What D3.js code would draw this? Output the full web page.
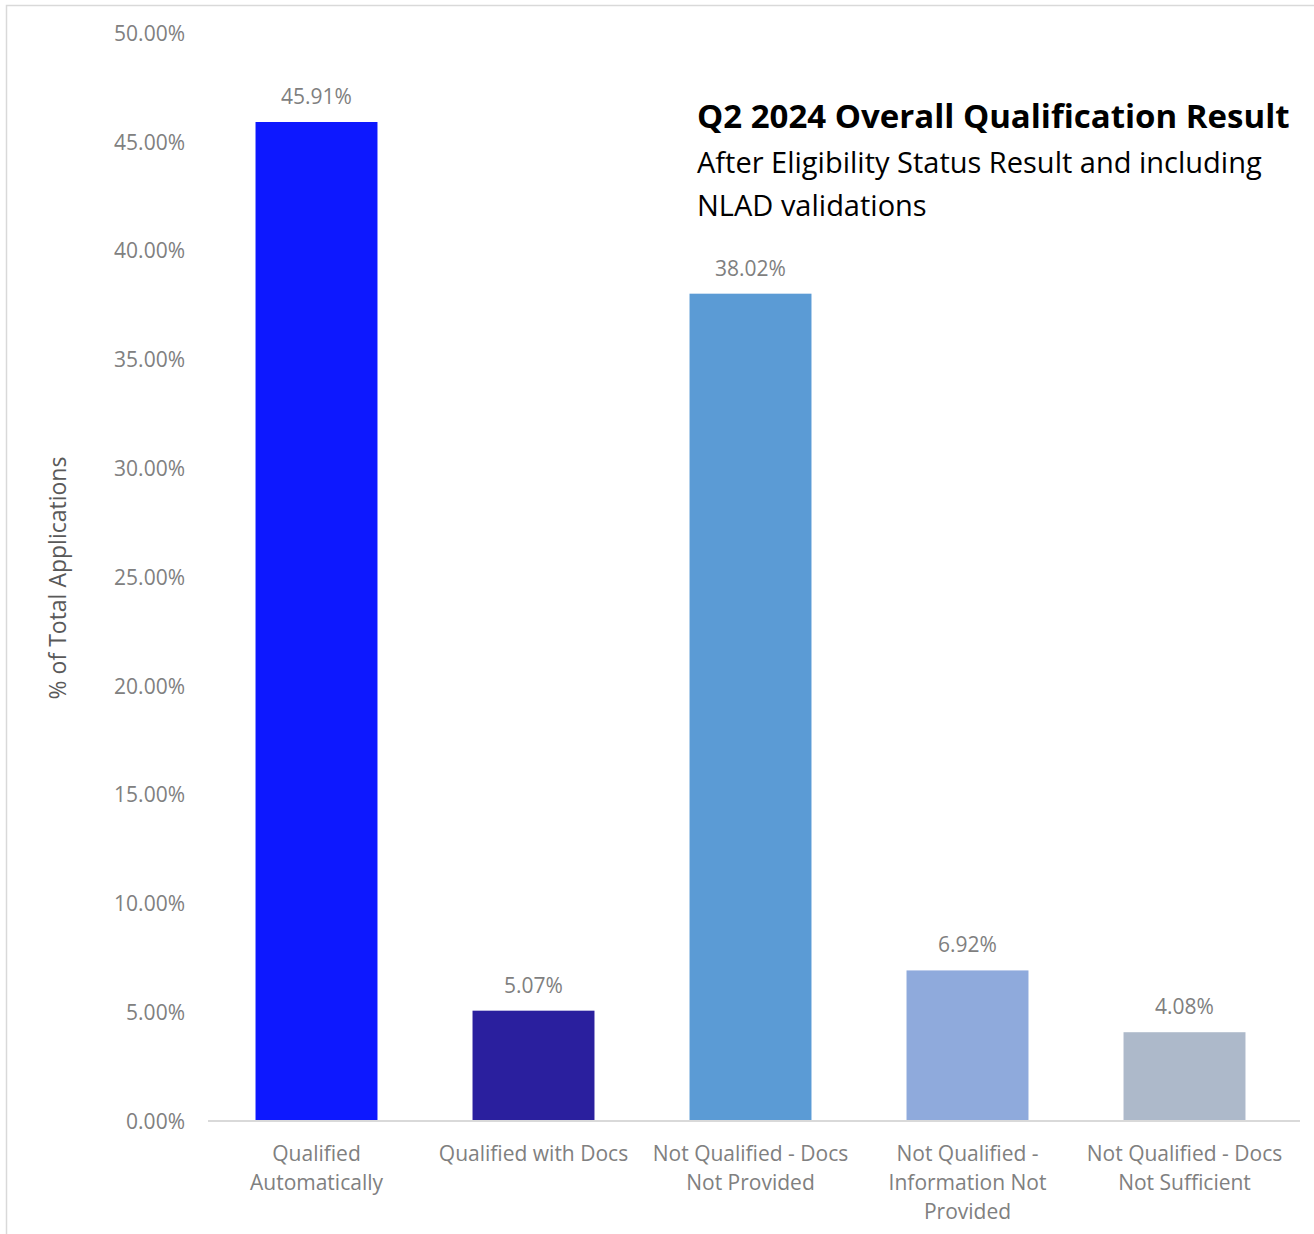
<!DOCTYPE html>
<html><head><meta charset="utf-8">
<script src="https://cdn.jsdelivr.net/npm/d3@7"></script>
<style>body{margin:0;background:#fff}svg{display:block}</style>
</head><body>
<script>
const categories = [
  ["Qualified", "Automatically"],
  ["Qualified with Docs"],
  ["Not Qualified - Docs", "Not Provided"],
  ["Not Qualified -", "Information Not", "Provided"],
  ["Not Qualified - Docs", "Not Sufficient"]
];
const values = [45.91, 5.07, 38.02, 6.92, 4.08];
const colors = ["#0D18FF", "#2A1F9E", "#5B9BD5", "#8FAADC", "#ADB9CA"];
const yTicks = [0, 5, 10, 15, 20, 25, 30, 35, 40, 45, 50];
const titleText = "Q2 2024 Overall Qualification Result";
const subtitleLines = ["After Eligibility Status Result and including", "NLAD validations"];
const yTitle = "% of Total Applications";

const W = 1314, H = 1234;
const font = "'Open Sans', 'Noto Sans', sans-serif";
const svg = d3.select("body").append("svg").attr("width", W).attr("height", H);

// frame
svg.append("path").attr("d", "M6.5,1234 V5.5 H1314").attr("fill", "none").attr("stroke", "#d9d9d9").attr("stroke-width", 1.5);

const x = d3.scaleBand().domain(d3.range(values.length)).range([208, 1293]).paddingInner(0.438).paddingOuter(0.219);
const y = d3.scaleLinear().domain([0, 50]).range([1121, 33]);

// y axis
const yAxis = d3.axisLeft(y).tickValues(yTicks).tickFormat(d => d.toFixed(2) + "%").tickSize(0).tickPadding(0);
const ya = svg.append("g").attr("transform", "translate(185,0)").call(yAxis);
ya.select(".domain").remove();
ya.selectAll("text").attr("font-family", font).attr("font-size", 21).attr("fill", "#808080").attr("dy", "0.35em");

// bars
svg.selectAll("rect.bar").data(values).join("rect").attr("class", "bar")
  .attr("x", (d, i) => x(i)).attr("width", x.bandwidth())
  .attr("y", d => y(d)).attr("height", d => y(0) - y(d))
  .attr("fill", (d, i) => colors[i]);

// baseline
svg.append("line").attr("x1", 208).attr("x2", 1300).attr("y1", y(0)).attr("y2", y(0)).attr("stroke", "#d9d9d9").attr("stroke-width", 2);

// value labels
svg.selectAll("text.val").data(values).join("text").attr("class", "val")
  .attr("x", (d, i) => x(i) + x.bandwidth() / 2).attr("y", d => y(d) - 18)
  .attr("text-anchor", "middle").attr("font-family", font).attr("font-size", 21).attr("fill", "#7f7f7f")
  .text(d => d.toFixed(2) + "%");

// category labels
const cat = svg.selectAll("text.cat").data(categories).join("text").attr("class", "cat")
  .attr("text-anchor", "middle").attr("font-family", font).attr("font-size", 21).attr("fill", "#808080");
cat.each(function(lines, i) {
  d3.select(this).selectAll("tspan").data(lines).join("tspan")
    .attr("x", x(i) + x.bandwidth() / 2).attr("y", (l, j) => 1161 + j * 29).text(l => l);
});

// y title
svg.append("text").attr("transform", "translate(66,578) rotate(-90)").attr("text-anchor", "middle")
  .attr("font-family", font).attr("font-size", 23).attr("fill", "#595959").text(yTitle);

// titles
svg.append("text").attr("x", 697).attr("y", 128).attr("font-family", font).attr("font-weight", "bold")
  .attr("font-size", 33).attr("fill", "#000").text(titleText);
svg.selectAll("text.sub").data(subtitleLines).join("text").attr("class", "sub")
  .attr("x", 697).attr("y", (d, i) => 173 + i * 43).attr("font-family", font)
  .attr("font-size", 29).attr("fill", "#000").text(d => d);
</script>
</body></html>
